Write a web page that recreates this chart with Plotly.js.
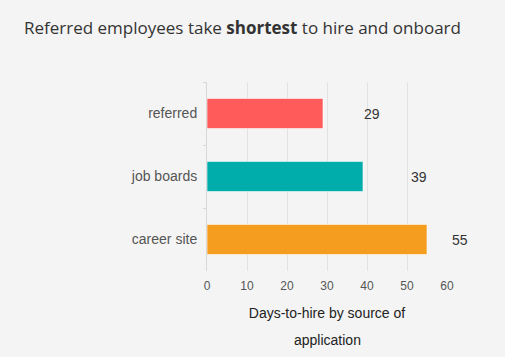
<!DOCTYPE html>
<html><head><meta charset="utf-8">
<script src="https://cdn.plot.ly/plotly-3.0.1.min.js"></script>
<style>html,body{margin:0;padding:0;background:#f4f4f4;}#chart{width:505px;height:357px;}</style>
</head><body><div id="chart"></div>
<script>
const categories = ["referred", "job boards", "career site"];
const days = [29, 39, 55];
const colors = ["#FF5B5B", "#00ADAB", "#F59D1F"];
const labelShift = [39, 46, 23];
const xTicks = [0, 10, 20, 30, 40, 50, 60];
const xTitleLine1 = "Days-to-hire by source of";
const xTitleLine2 = "application";

const axisFont = {family: "Liberation Sans, Arial, sans-serif", size: 14, color: "#222"};
const trace = {
  type: "bar", orientation: "h",
  y: categories, x: days,
  marker: {color: colors, line: {color: "rgba(255,255,255,0.6)", width: 1}},
  hoverinfo: "none", cliponaxis: false
};
const annotations = days.map((v, i) => ({
  x: v, y: categories[i], xref: "x", yref: "y",
  text: String(v), showarrow: false, xanchor: "left", xshift: labelShift[i],
  font: {family: "Liberation Sans, Arial, sans-serif", size: 14, color: "#333"}
}));
annotations.push({
  x: 0.5, y: 0, xref: "paper", yref: "paper", yanchor: "middle", yshift: -69,
  text: xTitleLine2, showarrow: false, font: axisFont
});
const layout = {
  width: 505, height: 357,
  paper_bgcolor: "#f4f4f4", plot_bgcolor: "#f4f4f4",
  margin: {l: 207, r: 58, t: 82, b: 86},
  bargap: 0.52,
  showlegend: false,
  title: {
    text: "Referred employees take <b>shortest</b> to hire and onboard",
    font: {family: "Open Sans, Noto Sans, sans-serif", size: 17, color: "#333"},
    xref: "container", yref: "container", x: 24/505, xanchor: "left", y: 1 - 28/357, yanchor: "middle"
  },
  xaxis: {
    range: [0, 60], tickvals: xTicks, ticktext: xTicks.map(String),
    showgrid: true, gridcolor: "#e2e2e2", gridwidth: 1, zeroline: false, showline: false,
    ticks: "", ticklabelstandoff: 6,
    tickfont: {family: "Liberation Sans, Arial, sans-serif", size: 12, color: "#555"},
    title: {text: xTitleLine1, standoff: 16, font: axisFont},
    fixedrange: true
  },
  yaxis: {
    autorange: "reversed", showline: true, linecolor: "#d8d8d8", linewidth: 1,
    ticks: "outside", tickson: "boundaries", ticklen: 3, tickcolor: "#d8d8d8",
    ticklabelstandoff: 6,
    tickfont: {family: "Liberation Sans, Arial, sans-serif", size: 14, color: "#555"},
    showgrid: false, fixedrange: true
  },
  annotations: annotations
};
Plotly.newPlot("chart", [trace], layout, {displayModeBar: false, staticPlot: true});
</script></body></html>
